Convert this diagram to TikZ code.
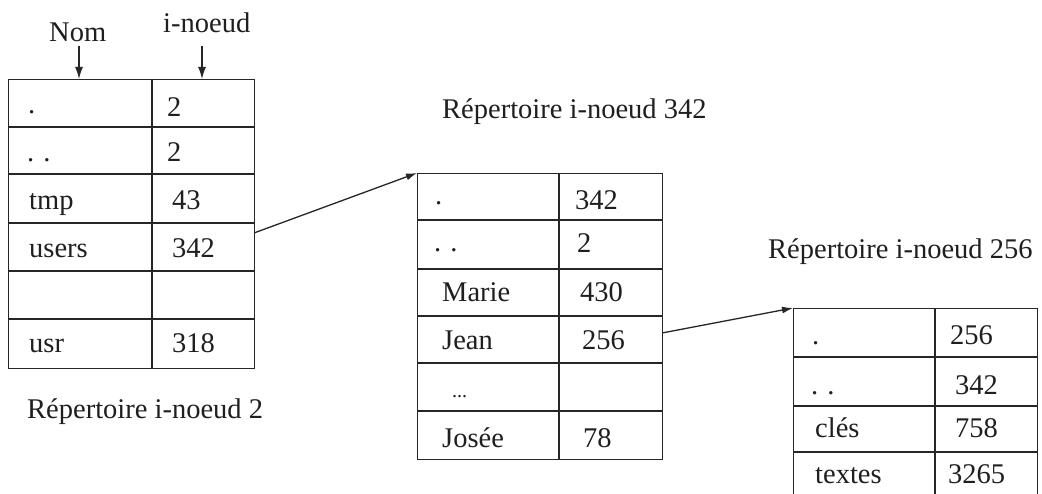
\documentclass[tikz,border=0pt]{standalone}
\usepackage{fontspec}
\setmainfont{Liberation Serif}
\usetikzlibrary{arrows.meta}
\begin{document}
\begin{tikzpicture}[x=1pt,y=-1pt,
  txt/.style={anchor=base west,inner sep=0pt,font=\fontsize{28.5}{30}\selectfont,text=black!88},
  frame/.style={draw=black!85,line width=1.3pt,anchor=north west,inner sep=0pt},
  grid/.style={draw=black!85,line width=1.3pt},
  thick rule/.style={draw=black!85,line width=2.6pt},
  ptr/.style={draw=black!85,line width=1.3pt,-{Latex[length=11pt,width=7pt]}},
  hdr/.style={draw=black!85,line width=1.3pt,-{Latex[length=12pt,width=8pt]}}]
\useasboundingbox (0,0) rectangle (1042,494);
\clip (0,0) rectangle (1042,494);
\fill[white] (0,0) rectangle (1042,494);

% ---------- column headers ----------
\node[txt] (nom) at (49,42) {Nom};
\node[txt] (inoeud) at (163,33) {i-noeud};
\coordinate (nomEnd) at (79,79);
\coordinate (inoEnd) at (202,79);
\draw[hdr] (79,46) -- (nomEnd);
\draw[hdr] (202,46) -- (inoEnd);

% ---------- table 1 : Repertoire i-noeud 2 ----------
\node[frame,minimum width=246pt,minimum height=289pt] (T1) at (8,79) {};
\draw[grid] (152,79) -- (152,368);
\foreach \yy in {127,174,223,271,319} \draw[grid] (8,\yy) -- (254,\yy);
\node[txt] (a1) at (28,114) {.};
\node[txt] (b1) at (167,117) {2};
\node[txt] (a2) at (27,162) {.\kern 9pt.};
\node[txt] (b2) at (167,162) {2};
\node[txt] (a3) at (29,210) {tmp};
\node[txt] (b3) at (172,210) {43};
\node[txt] (a4) at (29,258) {users};
\node[txt] (b4) at (172,258) {342};
\node[txt] (a6) at (29,353) {usr};
\node[txt] (b6) at (172,353) {318};
\node[txt] (cap1) at (27,418) {Répertoire i-noeud 2};
\coordinate (usersOut) at (254,233);

% ---------- table 2 : Repertoire i-noeud 342 ----------
\node[txt] (cap2) at (442,119) {Répertoire i-noeud 342};
\node[frame,minimum width=245pt,minimum height=286pt] (T2) at (417,173) {};
\draw[grid] (559,173) -- (559,459);
\draw[thick rule] (417,220) -- (662,220);
\foreach \yy in {269,316,363,411} \draw[grid] (417,\yy) -- (662,\yy);
\node[txt] (c1) at (435,205) {.};
\node[txt] (d1) at (575,210) {342};
\node[txt] (c2) at (434,252) {.\kern 9pt.};
\node[txt] (d2) at (577,253) {2};
\node[txt] (c3) at (442,302) {Marie};
\node[txt] (d3) at (580,302) {430};
\node[txt] (c4) at (442,350) {Jean};
\node[txt] (d4) at (582,350) {256};
\node[txt,font=\fontsize{20}{22}\selectfont] (c5) at (452,397) {...};
\node[txt] (c6) at (442,447) {Josée};
\node[txt] (d6) at (583,447) {78};
\coordinate (jeanOut) at (662,333);

% ---------- table 3 : Repertoire i-noeud 256 ----------
\node[txt] (cap3) at (768,259) {Répertoire i-noeud 256};
\node[frame,minimum width=244pt,minimum height=200pt] (T3) at (793,308) {};
\draw[grid] (935,308) -- (935,508);
\draw[thick rule] (793,357) -- (1037,357);
\foreach \yy in {406,452} \draw[grid] (793,\yy) -- (1037,\yy);
\node[txt] (e1) at (812,345) {.};
\node[txt] (f1) at (950,345) {256};
\node[txt] (e2) at (811,395) {.\kern 9pt.};
\node[txt] (f2) at (955,395) {342};
\node[txt] (e3) at (815,437) {clés};
\node[txt] (f3) at (955,437) {758};
\node[txt] (e4) at (815,483) {textes};
\node[txt] (f4) at (948,483) {3265};

% ---------- pointers ----------
\draw[ptr] (usersOut) -- (T2.north west);
\draw[ptr] (jeanOut) -- (T3.north west);
\end{tikzpicture}
\end{document}
